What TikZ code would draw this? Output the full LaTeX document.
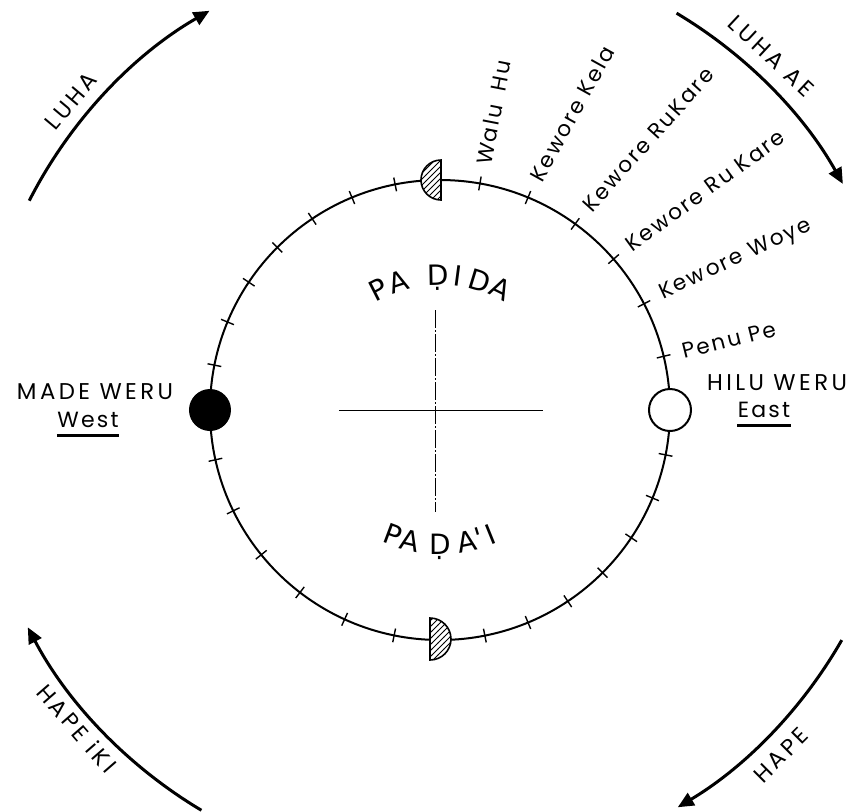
\documentclass[tikz,border=0pt]{standalone}
\usepackage{fontspec}
\setmainfont{Poppins}[LetterSpace=10]
\newfontfamily\capsfont{Poppins}[LetterSpace=15]
\newfontfamily\bigfont{DejaVu Sans}
\usetikzlibrary{arrows.meta, patterns}

\tikzset{
  rim/.style={line width=1pt},
  tickmark/.style={line width=0.7pt},
  axisline/.style={line width=0.5pt},
  season/.style={line width=1.5pt, -{Triangle[length=8pt, width=7pt]}},
  raylbl/.style={font=\fontsize{10.8}{12}\selectfont, inner sep=0pt, anchor=west},
  capslbl/.style={font=\capsfont\fontsize{11.4}{13}\selectfont, inner sep=0pt},
  sidelbl/.style={font=\fontsize{11}{13}\selectfont, inner sep=0pt},
  bigletter/.style={font=\bigfont\fontsize{14}{16}\selectfont, inner sep=0pt, anchor=base},
  hatchcap/.style={draw, line width=0.8pt, preaction={fill=white}, pattern=north east lines},
  underbar/.style={line width=1.2pt}
}

\begin{document}
\begin{tikzpicture}[x=0.5pt, y=0.5pt]
  \useasboundingbox (-440,-401) rectangle (412,410);

  % --- the rim and its ticks ---
  \draw[rim] (0,0) circle[radius=230];
  \foreach \a in {101.25,112.5,...,168.75} \draw[tickmark] (\a:223) -- (\a:237);
  \foreach \a in {192.5,206,219,232.5,245.5,258.5} \draw[tickmark] (\a:223) -- (\a:237);
  \foreach \a in {-11.25,-22.5,...,-78.75} \draw[tickmark] (\a:223) -- (\a:237);

  % --- named ticks on the upper right ---
  \foreach \a/\r/\t [count=\i] in {80/79/Walu\kern3pt{} Hu, 67.5/61/Kewore Kela, 54/48/Kewore RuKare,
      41/36/Kewore Ru Kare, 27.5/25/Kewore Woye, 13.5/14/Penu Pe} {
    \draw[tickmark] (\a:223) -- (\a:237);
    \node[raylbl, rotate=\r] (ray\i) at (\a:249) {\t};
  }

  % --- sun markers ---
  \fill (180:230) circle[radius=21];
  \draw[rim, fill=white] (0:230) circle[radius=21];
  \draw[hatchcap] (1,250) arc[start angle=90, end angle=270, radius=20] -- cycle;
  \draw[hatchcap] (-10,-208) arc[start angle=90, end angle=-90, radius=21] -- cycle;

  % --- cross in the middle ---
  \draw[axisline] (-101,0) -- (103,0);
  \draw[axisline, dash pattern=on 9pt off 1.2pt on 0.6pt off 1.2pt] (-4,100) -- (-4,-102);

  % --- PA DIDA / PA DA'I ---
  \foreach \a/\c [count=\i] in {117/P, 108/A, 91/Ḍ, 82.5/I, 73/D, 63.5/A}
    \node[bigletter, rotate=\a-90] (dida\i) at (\a:125) {\c};
  \foreach \a/\c [count=\i] in {249.5/P, 257/A, 270/Ḍ, 281.5/A, 287/', 292/I}
    \node[bigletter, rotate=\a+90] (dai\i) at (\a:144) {\c};

  % --- west and east ---
  \node[capslbl] (madeweru) at (-345,18) {MADE WERU};
  \node[sidelbl] (westlbl) at (-352,-10) {West};
  \draw[underbar] ([yshift=-4pt]westlbl.base west) -- ([yshift=-4pt]westlbl.base east);
  \node[capslbl] (hiluweru) at (337,27) {HILU WERU};
  \node[sidelbl] (eastlbl) at (324,0) {East};
  \draw[underbar] ([yshift=-4pt]eastlbl.base west) -- ([yshift=-4pt]eastlbl.base east);

  % --- seasons round the outside ---
  \draw[season] (153:461) arc[start angle=153, end angle=120, radius=461];
  \draw[season] (59.2:462) arc[start angle=59.2, end angle=29.3, radius=462];
  \draw[season] (-29.8:463) arc[start angle=-29.8, end angle=-59.1, radius=463];
  \draw[season] (239.2:466) arc[start angle=239.2, end angle=207.8, radius=466];
  \node[capslbl, rotate=50] (luha) at (-369,309) {LUHA};
  \node[capslbl, rotate=-43] (luhaae) at (331,354) {LUHA AE};
  \node[capslbl, rotate=45] (hape) at (341,-345) {HAPE};
  \node[capslbl, rotate=-49] (hapeiki) at (-363,-318) {HAPE iKI};
\end{tikzpicture}
\end{document}
